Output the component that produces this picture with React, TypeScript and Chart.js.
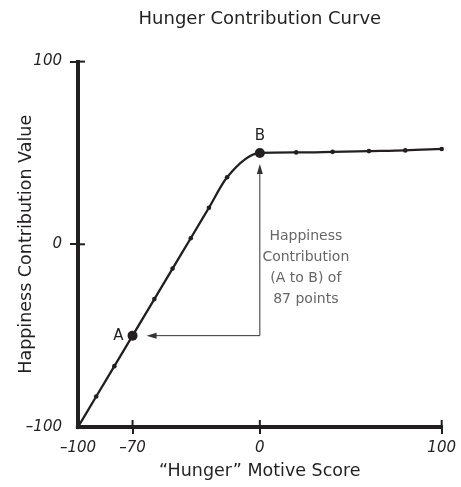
import React, { useEffect, useRef } from 'react';
import { Chart, registerables } from 'chart.js';

Chart.register(...registerables);

const motiveScores = [-100, -90, -80, -70, -58, -48, -38, -28, -18, 0, 20, 40, 60, 80, 100];
const contributionValues = [-100, -83.3, -66.7, -50, -30, -13.3, 3.3, 20, 36.7, 50, 50.3, 50.6, 51, 51.4, 52.2];
const pointLabels = ['', '', '', 'A', '', '', '', '', '', 'B', '', '', '', '', ''];
const xTickValues = [-100, -70, 0, 100];
const yTickValues = [-100, 0, 100];
const annotationLines = ['Happiness', 'Contribution', '(A to B) of', '87 points'];
const titleText = 'Hunger Contribution Curve';
const xTitleText = '\u201CHunger\u201D Motive Score';
const yTitleText = 'Happiness Contribution Value';

const INK = '#231f20';
const FONT = "'DejaVu Sans', sans-serif";

const fmt = (v: number) => (v < 0 ? '\u2013' + Math.abs(v) : String(v));

const overlay = {
  id: 'overlay',
  afterDraw(chart: any) {
    const { ctx } = chart;
    const x = chart.scales.x;
    const y = chart.scales.y;
    ctx.save();
    // inner halves of tick marks
    ctx.strokeStyle = INK;
    ctx.lineWidth = 2;
    xTickValues.forEach((v) => {
      if (v === -100) return;
      const px = x.getPixelForValue(v);
      ctx.beginPath();
      ctx.moveTo(px, y.bottom);
      ctx.lineTo(px, y.bottom - 7);
      ctx.stroke();
    });
    yTickValues.forEach((v) => {
      if (v === -100) return;
      const py = y.getPixelForValue(v);
      ctx.beginPath();
      ctx.moveTo(x.left, py);
      ctx.lineTo(x.left + 7, py);
      ctx.stroke();
    });

    const ia = pointLabels.indexOf('A');
    const ib = pointLabels.indexOf('B');
    const ax = x.getPixelForValue(motiveScores[ia]);
    const ay = y.getPixelForValue(contributionValues[ia]);
    const bx = x.getPixelForValue(motiveScores[ib]);
    const by = y.getPixelForValue(contributionValues[ib]);

    // arrows
    ctx.strokeStyle = '#333';
    ctx.fillStyle = '#333';
    ctx.lineWidth = 1;
    const tipH = ax + 14;
    const tipV = by + 11;
    ctx.beginPath();
    ctx.moveTo(bx, ay);
    ctx.lineTo(tipH + 6, ay);
    ctx.moveTo(bx, ay);
    ctx.lineTo(bx, tipV + 6);
    ctx.stroke();
    ctx.beginPath();
    ctx.moveTo(tipH, ay);
    ctx.lineTo(tipH + 10, ay - 3);
    ctx.lineTo(tipH + 10, ay + 3);
    ctx.closePath();
    ctx.fill();
    ctx.beginPath();
    ctx.moveTo(bx, tipV);
    ctx.lineTo(bx - 3, tipV + 10);
    ctx.lineTo(bx + 3, tipV + 10);
    ctx.closePath();
    ctx.fill();

    // point labels
    ctx.fillStyle = INK;
    ctx.font = `15px ${FONT}`;
    ctx.textAlign = 'right';
    ctx.textBaseline = 'middle';
    ctx.fillText('A', ax - 9, ay);
    ctx.textAlign = 'center';
    ctx.textBaseline = 'bottom';
    ctx.fillText('B', bx, by - 9);

    // annotation
    ctx.fillStyle = '#666';
    ctx.font = `normal 14px ${FONT}`;
    ctx.textAlign = 'center';
    ctx.textBaseline = 'middle';
    const y0 = y.getPixelForValue(0);
    annotationLines.forEach((t, i) => {
      ctx.fillText(t, bx + 46, y0 - 8 + i * 21);
    });
    ctx.restore();
  },
};

export default function App() {
  const ref = useRef<HTMLCanvasElement | null>(null);
  useEffect(() => {
    if (!ref.current) return;
    const chart = new Chart(ref.current, {
      type: 'line',
      data: {
        datasets: [
          {
            data: motiveScores.map((m, i) => ({ x: m, y: contributionValues[i] })),
            borderColor: INK,
            backgroundColor: INK,
            borderWidth: 2.3,
            cubicInterpolationMode: 'monotone',
            pointRadius: pointLabels.map((l) => (l ? 5 : 2.3)),
            pointBorderWidth: 0,
            pointBackgroundColor: INK,
            clip: false as any,
          },
        ],
      },
      options: {
        responsive: false,
        animation: false,
        layout: { padding: { top: 0, right: 18, left: 0, bottom: 0 } },
        plugins: {
          legend: { display: false },
          tooltip: { enabled: false },
          title: {
            display: true,
            text: titleText,
            fullSize: false,
            color: INK,
            font: { family: FONT, size: 18, weight: 'normal' },
            padding: { top: 9, bottom: 31 },
          },
        },
        scales: {
          x: {
            type: 'linear',
            min: -100,
            max: 100,
            afterBuildTicks: (s: any) => {
              s.ticks = xTickValues.map((v) => ({ value: v }));
            },
            afterFit: (s: any) => {
              s.height = 60;
            },
            grid: {
              drawOnChartArea: false,
              drawTicks: true,
              tickLength: 7,
              lineWidth: 2,
              color: (c: any) => (c.tick && c.tick.value === -100 ? 'rgba(0,0,0,0)' : INK),
            },
            border: { display: true, color: INK, width: 4 },
            ticks: {
              color: INK,
              padding: 5,
              font: { family: FONT, size: 15, style: 'italic' },
              callback: (v: any) => fmt(Number(v)),
            },
            title: {
              display: true,
              text: xTitleText,
              color: INK,
              font: { family: FONT, size: 17.5 },
              padding: { top: 0, bottom: 5 },
            },
          },
          y: {
            type: 'linear',
            min: -100,
            max: 100,
            afterBuildTicks: (s: any) => {
              s.ticks = yTickValues.map((v) => ({ value: v }));
            },
            afterFit: (s: any) => {
              s.width = 78;
            },
            grid: {
              drawOnChartArea: false,
              drawTicks: true,
              tickLength: 8,
              lineWidth: 2,
              color: (c: any) => (c.tick && c.tick.value === -100 ? 'rgba(0,0,0,0)' : INK),
            },
            border: { display: true, color: INK, width: 4 },
            ticks: {
              color: INK,
              padding: 8,
              font: { family: FONT, size: 15, style: 'italic' },
              callback: (v: any) => fmt(Number(v)),
            },
            title: {
              display: true,
              text: yTitleText,
              color: INK,
              font: { family: FONT, size: 17.5 },
              padding: { top: 16, bottom: 0 },
            },
          },
        },
      },
      plugins: [overlay],
    });
    return () => chart.destroy();
  }, []);
  return (
    <div style={{ position: 'fixed', left: 0, top: 0, width: 461, height: 487, background: '#fff' }}>
      <canvas ref={ref} width={461} height={487} />
    </div>
  );
}
